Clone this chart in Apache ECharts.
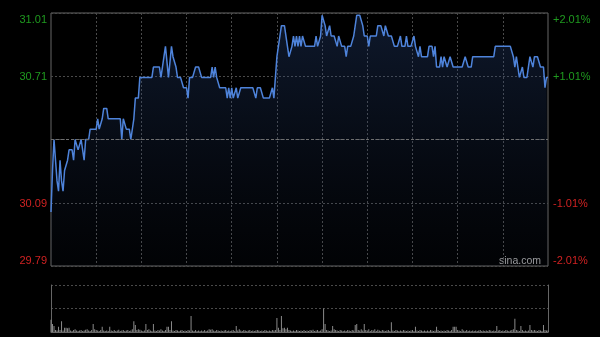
<!DOCTYPE html>
<html><head><meta charset="utf-8">
<script src="https://cdn.jsdelivr.net/npm/echarts@6/dist/echarts.min.js"></script>
<style>html,body{margin:0;padding:0;background:#000;}#c{width:600px;height:337px;}</style>
</head><body><div id="c"></div>
<script>
const prevClose = 30.40;
const prices = [
30.05,30.25,30.40,30.30,30.20,30.15,30.30,30.20,30.15,30.25,
30.25,30.30,30.35,30.35,30.35,30.30,30.40,30.40,30.35,30.35,
30.40,30.35,30.30,30.40,30.40,30.40,30.45,30.45,30.45,30.45,
30.45,30.50,30.45,30.45,30.50,30.55,30.55,30.55,30.50,30.50,
30.50,30.50,30.50,30.50,30.50,30.50,30.50,30.40,30.50,30.50,
30.45,30.45,30.45,30.40,30.40,30.50,30.60,30.60,30.60,30.70,
30.70,30.70,30.70,30.70,30.70,30.70,30.70,30.70,30.75,30.75,
30.75,30.75,30.75,30.70,30.75,30.80,30.85,30.85,30.70,30.70,
30.85,30.80,30.80,30.75,30.70,30.70,30.70,30.70,30.65,30.65,
30.65,30.60,30.70,30.70,30.70,30.70,30.75,30.75,30.75,30.75,
30.70,30.70,30.70,30.70,30.70,30.70,30.70,30.75,30.70,30.75,
30.70,30.70,30.65,30.65,30.65,30.65,30.65,30.60,30.65,30.60,
30.65,30.60,30.60,30.65,30.60,30.60,30.65,30.65,30.65,30.65,
30.65,30.65,30.65,30.65,30.65,30.65,30.60,30.65,30.65,30.65,
30.65,30.60,30.60,30.60,30.60,30.60,30.60,30.65,30.60,30.60,
30.80,30.80,30.90,30.95,30.95,30.95,30.95,30.85,30.80,30.80,
30.85,30.90,30.85,30.90,30.85,30.90,30.85,30.90,30.90,30.85,
30.85,30.85,30.85,30.85,30.85,30.85,30.90,30.85,30.85,30.90,
31.00,31.00,30.95,30.90,30.90,30.95,30.90,30.90,30.90,30.90,
30.85,30.90,30.90,30.85,30.85,30.85,30.80,30.85,30.85,30.85,
30.85,30.90,30.95,31.00,31.00,31.00,31.00,30.95,30.90,30.90,
30.90,30.85,30.90,30.90,30.90,30.90,30.90,30.95,30.95,30.95,
30.95,30.90,30.95,30.95,30.90,30.90,30.90,30.90,30.85,30.85,
30.85,30.85,30.90,30.85,30.85,30.85,30.90,30.85,30.85,30.85,
30.85,30.90,30.85,30.85,30.80,30.85,30.80,30.80,30.80,30.80,
30.80,30.85,30.85,30.85,30.80,30.85,30.75,30.75,30.75,30.80,
30.75,30.80,30.80,30.75,30.75,30.80,30.80,30.75,30.75,30.75,
30.75,30.75,30.75,30.75,30.75,30.80,30.80,30.75,30.75,30.75,
30.80,30.80,30.80,30.80,30.80,30.80,30.80,30.80,30.80,30.80,
30.80,30.80,30.80,30.80,30.80,30.85,30.85,30.85,30.85,30.85,
30.85,30.85,30.85,30.85,30.85,30.85,30.85,30.80,30.75,30.80,
30.75,30.70,30.70,30.75,30.70,30.70,30.70,30.70,30.80,30.80,
30.75,30.80,30.80,30.80,30.80,30.75,30.75,30.75,30.65,30.70,
30.70
];
const volumes = [
26,17,13,4,3,11,4,23,3,9,
9,8,9,3,2,4,6,3,2,3,
4,2,3,5,6,3,2,4,17,6,
4,3,2,4,11,3,2,3,2,11,
3,2,4,2,3,5,2,3,4,2,
3,4,2,3,6,23,15,4,6,5,
3,2,3,17,4,6,3,2,17,3,
2,4,3,6,3,2,4,11,11,4,
23,3,2,4,3,2,3,4,2,3,
2,4,3,34,3,2,4,2,3,2,
3,2,4,2,3,6,5,6,3,2,
4,3,2,3,2,3,4,2,3,2,
3,4,2,13,3,6,3,2,4,3,
2,3,4,2,3,2,3,4,3,2,
3,2,4,3,2,3,2,4,3,4,
30,9,4,34,8,9,6,9,4,3,
2,3,2,4,3,2,3,2,4,2,
3,2,4,3,5,2,3,4,2,3,
6,50,17,4,3,2,3,13,6,4,
3,2,4,3,2,3,2,4,3,2,
4,3,15,17,4,3,6,3,17,4,
3,6,2,4,3,6,2,5,3,2,
4,3,2,3,4,2,21,3,2,4,
3,2,3,2,4,3,2,3,2,3,
4,2,11,3,2,4,3,2,3,2,
3,2,4,3,2,3,11,4,2,3,
2,3,2,4,3,2,4,11,11,11,
4,3,2,6,3,2,4,2,3,2,
3,2,3,2,3,4,2,3,2,3,
2,4,3,2,3,2,13,3,4,2,
3,2,4,3,2,3,4,6,28,4,
3,2,13,4,2,3,2,3,15,4,
3,4,3,2,4,3,2,15,4,3,
3
];
const leftTickLabels = ['29.79','30.09','','30.71','31.01'];
const rightTickLabels = ['-2.01%','-1.01%','','+1.01%','+2.01%'];
const pctMin = -2.01, pctMax = 2.01, pctStep = 1.005;

const times = [];
function fmt(m){const h=Math.floor(m/60),mm=m%60;return (h<10?'0':'')+h+':'+(mm<10?'0':'')+mm;}
for(let m=570;m<=720;m++) times.push(fmt(m));
for(let m=781;m<=960;m++) times.push(fmt(m));

const pct = prices.map(p => (p/prevClose - 1)*100);

function tickIdx(v){return Math.round((v - pctMin)/pctStep);}
function styled(labels){
  return function(v){
    const i = tickIdx(v);
    const t = labels[i];
    if(!t) return '';
    const key = i===4 ? 'gt' : i===3 ? 'g' : i===1 ? 'r' : 'rb';
    return '{' + key + '|' + t + '}';
  };
}
const FONT = 'Arial, "Liberation Sans", sans-serif';
const rich = {
  gt:{color:'#1f9a1f',fontSize:11,fontFamily:FONT,padding:[14,0,0,0]},
  g:{color:'#1f9a1f',fontSize:11,fontFamily:FONT,padding:[2,0,0,0]},
  r:{color:'#d02222',fontSize:11,fontFamily:FONT,padding:[2,0,0,0]},
  rb:{color:'#d02222',fontSize:11,fontFamily:FONT,padding:[0,0,11,0]}
};
const gridDash = {color:'#4a4a4a',width:1,type:[2,2]};

const chart = echarts.init(document.getElementById('c'), null, {renderer:'canvas'});
chart.setOption({
  backgroundColor:'#000',
  animation:false,
  grid:[
    {left:51,top:13,width:497,height:253,show:true,borderColor:'#666',borderWidth:1,backgroundColor:'transparent'},
    {left:51,top:285,width:497,height:47}
  ],
  xAxis:[
    {type:'category',gridIndex:0,data:times,boundaryGap:false,
     axisLine:{show:false},axisTick:{show:false},axisLabel:{show:false},
     splitLine:{show:true,interval:function(i){return i>0 && i<330 && i%30===0;},lineStyle:gridDash}},
    {type:'category',gridIndex:1,data:times,boundaryGap:false,
     axisLine:{show:true,lineStyle:{color:'#666',width:1}},axisTick:{show:false},axisLabel:{show:false},
     splitLine:{show:false}}
  ],
  yAxis:[
    {type:'value',gridIndex:0,min:pctMin,max:pctMax,interval:pctStep,position:'left',
     axisLine:{show:false},axisTick:{show:false},
     axisLabel:{show:true,margin:4,formatter:styled(leftTickLabels),rich:rich},
     splitLine:{show:true,lineStyle:gridDash}},
    {type:'value',gridIndex:0,min:pctMin,max:pctMax,interval:pctStep,position:'right',
     axisLine:{show:false},axisTick:{show:false},
     axisLabel:{show:true,margin:5,formatter:styled(rightTickLabels),rich:rich},
     splitLine:{show:false}},
    {type:'value',gridIndex:1,min:0,max:100,interval:50,position:'left',
     axisLine:{show:true,lineStyle:{color:'#666',width:1}},axisTick:{show:false},axisLabel:{show:false},
     splitLine:{show:true,lineStyle:gridDash}},
    {type:'value',gridIndex:1,min:0,max:100,interval:50,position:'right',
     axisLine:{show:true,lineStyle:{color:'#666',width:1}},axisTick:{show:false},axisLabel:{show:false},
     splitLine:{show:false}}
  ],
  series:[
    {type:'line',xAxisIndex:0,yAxisIndex:0,data:pct,showSymbol:false,symbol:'none',
     lineStyle:{color:'#4e83da',width:1.5},
     areaStyle:{origin:'start',color:new echarts.graphic.LinearGradient(0,0,0,1,[
       {offset:0,color:'rgba(45,78,140,0.45)'},{offset:1,color:'rgba(30,50,90,0.08)'}])},
     markLine:{silent:true,symbol:'none',label:{show:false},
       lineStyle:{color:'#6e6e6e',width:1,type:[3,2]},data:[{yAxis:0}]},
     z:3},
    {type:'bar',xAxisIndex:1,yAxisIndex:2,data:volumes,barWidth:1,
     itemStyle:{color:'#8a8a8a'}}
  ],
  graphic:[
    {type:'text',left:499,top:256,style:{text:'sina.com',fill:'#a0a0a0',font:'10.5px '+FONT}}
  ]
});
</script></body></html>
